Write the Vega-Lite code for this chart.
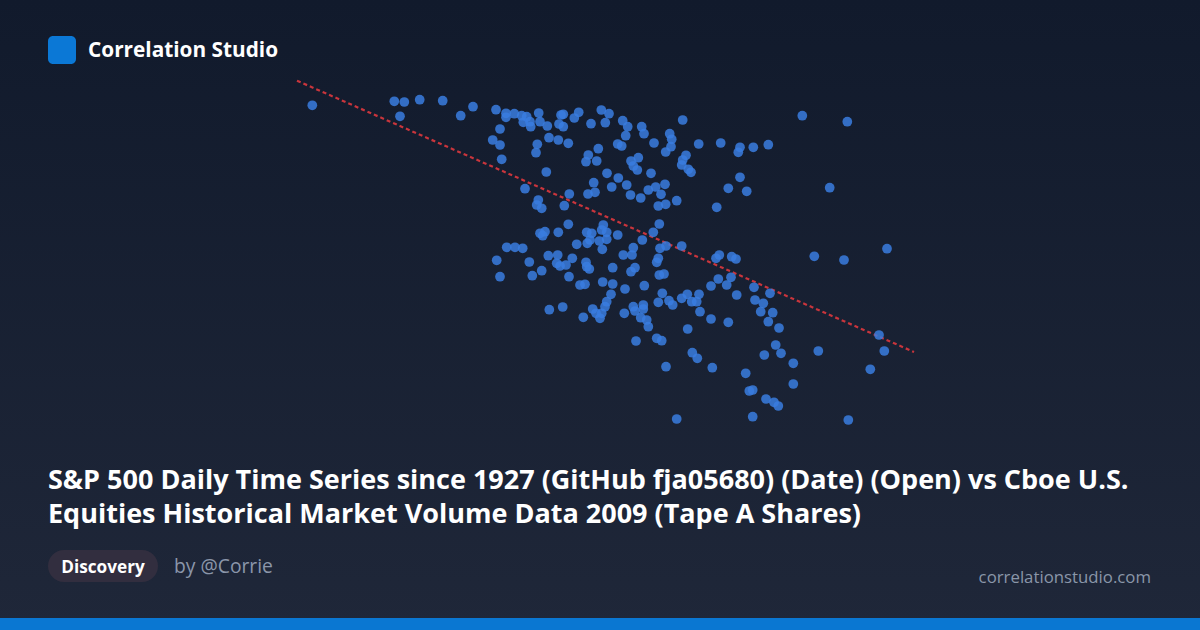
{
  "$schema": "https://vega.github.io/schema/vega-lite/v6.json",
  "width": 1200,
  "height": 630,
  "autosize": {"type": "fit", "contains": "padding"},
  "padding": 0,
  "background": "#161e30",
  "config": {"view": {"stroke": null}},
  "layer": [
    {
      "data": {"values": [{}]},
      "mark": {"type": "rect", "color": {"gradient": "linear", "x1": 0, "y1": 0, "x2": 0, "y2": 1, "stops": [{"offset": 0, "color": "#111a2c"}, {"offset": 1, "color": "#1f2739"}]}},
      "encoding": {"x": {"value": 0}, "x2": {"value": 1200}, "y": {"value": 0}, "y2": {"value": 630}}
    },
    {
      "data": {"values": [{}]},
      "mark": {"type": "rect", "color": "#0a77d2"},
      "encoding": {"x": {"value": 0}, "x2": {"value": 1200}, "y": {"value": 618}, "y2": {"value": 630}}
    },
    {
      "data": {"values": [{}]},
      "mark": {"type": "rect", "color": "#0b78d6", "cornerRadius": 5},
      "encoding": {"x": {"value": 48}, "x2": {"value": 76}, "y": {"value": 36}, "y2": {"value": 64}}
    },
    {
      "data": {"values": [{}]},
      "mark": {"type": "rect", "color": "#322e3f", "cornerRadius": 16},
      "encoding": {"x": {"value": 48}, "x2": {"value": 158}, "y": {"value": 550}, "y2": {"value": 582}}
    },
    {
      "data": {"values": [{}]},
      "mark": {"type": "text", "font": "Open Sans", "fontWeight": "bold", "fontSize": 20.8, "color": "#ffffff", "align": "left", "baseline": "alphabetic"},
      "encoding": {"x": {"value": 88}, "y": {"value": 57}, "text": {"value": "Correlation Studio"}}
    },
    {
      "data": {"values": [{}]},
      "mark": {"type": "text", "font": "Open Sans", "fontWeight": "bold", "fontSize": 27, "lineHeight": 34, "color": "#ffffff", "align": "left", "baseline": "alphabetic"},
      "encoding": {"x": {"value": 48}, "y": {"value": 489}, "text": {"value": ["S&P 500 Daily Time Series since 1927 (GitHub fja05680) (Date) (Open) vs Cboe U.S.", "Equities Historical Market Volume Data 2009 (Tape A Shares)"]}}
    },
    {
      "data": {"values": [{}]},
      "mark": {"type": "text", "font": "Open Sans", "fontWeight": "bold", "fontSize": 17.2, "color": "#ffffff", "align": "center", "baseline": "alphabetic"},
      "encoding": {"x": {"value": 103}, "y": {"value": 573}, "text": {"value": "Discovery"}}
    },
    {
      "data": {"values": [{}]},
      "mark": {"type": "text", "font": "Open Sans", "fontSize": 19.3, "color": "#8b96aa", "align": "left", "baseline": "alphabetic"},
      "encoding": {"x": {"value": 174}, "y": {"value": 573}, "text": {"value": "by @Corrie"}}
    },
    {
      "data": {"values": [{}]},
      "mark": {"type": "text", "font": "Open Sans", "fontSize": 16.8, "color": "#8a96a9", "align": "right", "baseline": "alphabetic"},
      "encoding": {"x": {"value": 1151}, "y": {"value": 583}, "text": {"value": "correlationstudio.com"}}
    },
    {
      "data": {"values": [{"open": 677.75, "volume": 6.193}, {"open": 1140.5, "volume": 3.48}]},
      "mark": {"type": "line", "color": "#c9353c", "strokeWidth": 2.2, "strokeDash": [4, 3]},
      "encoding": {
        "x": {"field": "open", "type": "quantitative", "scale": {"domain": [455, 1355], "nice": false, "zero": false}, "axis": null},
        "y": {"field": "volume", "type": "quantitative", "scale": {"domain": [0.7, 7.0], "nice": false, "zero": false}, "axis": null}
      }
    },
    {
      "data": {"values": [
        {"open": 689.23, "volume": 5.947}, {"open": 750.73, "volume": 5.987}, {"open": 758.23, "volume": 5.98}, {"open": 769.78, "volume": 6.003},
        {"open": 787.03, "volume": 5.993}, {"open": 755.0, "volume": 5.837}, {"open": 800.53, "volume": 5.843}, {"open": 809.75, "volume": 5.933},
        {"open": 827.0, "volume": 5.903}, {"open": 834.5, "volume": 5.867}, {"open": 834.5, "volume": 5.827}, {"open": 840.73, "volume": 5.863},
        {"open": 846.28, "volume": 5.843}, {"open": 850.03, "volume": 5.833}, {"open": 847.48, "volume": 5.777}, {"open": 852.5, "volume": 5.783},
        {"open": 853.03, "volume": 5.733}, {"open": 859.03, "volume": 5.87}, {"open": 860.0, "volume": 5.783}, {"open": 865.48, "volume": 5.74},
        {"open": 875.75, "volume": 5.85}, {"open": 877.48, "volume": 5.857}, {"open": 874.25, "volume": 5.76}, {"open": 877.48, "volume": 5.733},
        {"open": 885.73, "volume": 5.82}, {"open": 889.03, "volume": 5.877}, {"open": 898.25, "volume": 5.763}, {"open": 905.98, "volume": 5.9},
        {"open": 911.75, "volume": 5.863}, {"open": 908.98, "volume": 5.773}, {"open": 922.03, "volume": 5.793}, {"open": 925.78, "volume": 5.733},
        {"open": 830.0, "volume": 5.71}, {"open": 824.53, "volume": 5.6}, {"open": 830.0, "volume": 5.55}, {"open": 857.98, "volume": 5.557},
        {"open": 857.0, "volume": 5.473}, {"open": 866.75, "volume": 5.623}, {"open": 873.73, "volume": 5.6}, {"open": 881.23, "volume": 5.567},
        {"open": 903.73, "volume": 5.513}, {"open": 918.28, "volume": 5.56}, {"open": 921.28, "volume": 5.54}, {"open": 924.28, "volume": 5.643},
        {"open": 831.28, "volume": 5.407}, {"open": 896.23, "volume": 5.45}, {"open": 894.5, "volume": 5.383}, {"open": 902.53, "volume": 5.39},
        {"open": 864.73, "volume": 5.28}, {"open": 910.25, "volume": 5.267}, {"open": 918.73, "volume": 5.22}, {"open": 925.03, "volume": 5.15},
        {"open": 900.28, "volume": 5.173}, {"open": 913.78, "volume": 5.13}, {"open": 848.75, "volume": 5.113}, {"open": 881.98, "volume": 5.06},
        {"open": 896.0, "volume": 5.06}, {"open": 901.25, "volume": 5.077}, {"open": 927.88, "volume": 5.05}, {"open": 858.73, "volume": 5.0},
        {"open": 857.53, "volume": 4.95}, {"open": 861.28, "volume": 4.917}, {"open": 878.23, "volume": 4.943},
        {"open": 967.03, "volume": 5.8}, {"open": 936.28, "volume": 5.733}, {"open": 938.0, "volume": 5.663}, {"open": 957.28, "volume": 5.663},
        {"open": 958.78, "volume": 5.607}, {"open": 945.5, "volume": 5.57}, {"open": 958.25, "volume": 5.533}, {"open": 954.28, "volume": 5.48},
        {"open": 979.03, "volume": 5.56}, {"open": 995.53, "volume": 5.57}, {"open": 1010.0, "volume": 5.527}, {"open": 1008.73, "volume": 5.477},
        {"open": 1019.98, "volume": 5.527}, {"open": 1031.23, "volume": 5.553}, {"open": 969.5, "volume": 5.447}, {"open": 967.03, "volume": 5.4},
        {"open": 966.28, "volume": 5.35}, {"open": 971.23, "volume": 5.307}, {"open": 973.25, "volume": 5.277}, {"open": 933.73, "volume": 5.423},
        {"open": 929.98, "volume": 5.34}, {"open": 932.98, "volume": 5.3}, {"open": 928.25, "volume": 5.39}, {"open": 943.25, "volume": 5.267},
        {"open": 1010.0, "volume": 5.227}, {"open": 1001.23, "volume": 5.117}, {"open": 1015.03, "volume": 5.087}, {"open": 953.75, "volume": 5.157},
        {"open": 946.78, "volume": 5.13}, {"open": 941.23, "volume": 5.1}, {"open": 950.75, "volume": 5.057}, {"open": 935.53, "volume": 5.02},
        {"open": 962.53, "volume": 4.993}, {"open": 948.73, "volume": 4.94}, {"open": 954.28, "volume": 4.957}, {"open": 992.53, "volume": 4.927},
        {"open": 1056.73, "volume": 5.843}, {"open": 1090.48, "volume": 5.783}, {"open": 1077.28, "volume": 5.123},
        {"open": 881.23, "volume": 4.757}, {"open": 907.48, "volume": 4.75}, {"open": 860.0, "volume": 4.667}, {"open": 863.75, "volume": 4.683},
        {"open": 862.03, "volume": 4.643}, {"open": 873.73, "volume": 4.677}, {"open": 895.03, "volume": 4.677}, {"open": 898.78, "volume": 4.667},
        {"open": 906.28, "volume": 4.7}, {"open": 910.03, "volume": 4.677}, {"open": 918.28, "volume": 4.65}, {"open": 887.53, "volume": 4.557},
        {"open": 895.48, "volume": 4.567}, {"open": 897.5, "volume": 4.6}, {"open": 904.48, "volume": 4.59}, {"open": 910.03, "volume": 4.607},
        {"open": 906.73, "volume": 4.507}, {"open": 835.03, "volume": 4.527}, {"open": 841.25, "volume": 4.527}, {"open": 847.03, "volume": 4.517},
        {"open": 827.53, "volume": 4.397}, {"open": 851.98, "volume": 4.38}, {"open": 866.23, "volume": 4.443}, {"open": 873.28, "volume": 4.45},
        {"open": 872.53, "volume": 4.367}, {"open": 875.0, "volume": 4.34}, {"open": 879.5, "volume": 4.35}, {"open": 884.23, "volume": 4.417},
        {"open": 894.5, "volume": 4.377}, {"open": 895.03, "volume": 4.333}, {"open": 896.98, "volume": 4.31}, {"open": 914.53, "volume": 4.323},
        {"open": 922.48, "volume": 4.45}, {"open": 830.0, "volume": 4.233}, {"open": 854.23, "volume": 4.243}, {"open": 861.28, "volume": 4.293},
        {"open": 881.75, "volume": 4.233}, {"open": 890.0, "volume": 4.15}, {"open": 893.75, "volume": 4.157}, {"open": 907.03, "volume": 4.18},
        {"open": 914.53, "volume": 4.16}, {"open": 923.75, "volume": 4.11}, {"open": 913.25, "volume": 4.057}, {"open": 910.03, "volume": 3.983},
        {"open": 908.75, "volume": 3.933}, {"open": 899.53, "volume": 3.91}, {"open": 902.0, "volume": 3.867}, {"open": 906.28, "volume": 3.867},
        {"open": 905.0, "volume": 3.817}, {"open": 892.48, "volume": 3.827}, {"open": 866.98, "volume": 3.903}, {"open": 877.03, "volume": 3.93},
        {"open": 923.23, "volume": 3.867},
        {"open": 949.48, "volume": 4.76}, {"open": 944.98, "volume": 4.677}, {"open": 936.73, "volume": 4.6}, {"open": 929.98, "volume": 4.523},
        {"open": 929.0, "volume": 4.45}, {"open": 950.0, "volume": 4.517}, {"open": 954.5, "volume": 4.54}, {"open": 948.73, "volume": 4.417},
        {"open": 947.53, "volume": 4.377}, {"open": 966.28, "volume": 4.54}, {"open": 992.0, "volume": 4.417}, {"open": 994.48, "volume": 4.45},
        {"open": 1003.78, "volume": 4.433}, {"open": 1007.0, "volume": 4.41}, {"open": 931.25, "volume": 4.323}, {"open": 928.25, "volume": 4.283},
        {"open": 949.48, "volume": 4.25}, {"open": 953.0, "volume": 4.26}, {"open": 938.23, "volume": 4.143}, {"open": 988.25, "volume": 4.14},
        {"open": 993.73, "volume": 4.21}, {"open": 1000.03, "volume": 4.15}, {"open": 1003.25, "volume": 4.227}, {"open": 1007.53, "volume": 4.05},
        {"open": 1020.5, "volume": 4.127}, {"open": 1032.5, "volume": 4.067}, {"open": 951.73, "volume": 4.067}, {"open": 948.73, "volume": 3.977},
        {"open": 956.75, "volume": 3.993}, {"open": 959.53, "volume": 3.95}, {"open": 966.28, "volume": 4.017}, {"open": 970.48, "volume": 4.057},
        {"open": 973.78, "volume": 3.983}, {"open": 977.53, "volume": 3.983}, {"open": 979.25, "volume": 4.057}, {"open": 980.0, "volume": 3.883},
        {"open": 988.25, "volume": 3.81}, {"open": 1001.23, "volume": 3.777}, {"open": 1021.25, "volume": 4.0}, {"open": 1027.48, "volume": 3.967},
        {"open": 1025.53, "volume": 3.883}, {"open": 1034.53, "volume": 3.873}, {"open": 1031.23, "volume": 3.783}, {"open": 929.98, "volume": 3.933},
        {"open": 931.25, "volume": 3.89}, {"open": 937.48, "volume": 3.95}, {"open": 937.48, "volume": 3.91}, {"open": 935.53, "volume": 3.823},
        {"open": 940.03, "volume": 3.8},
        {"open": 1065.73, "volume": 4.437}, {"open": 1088.0, "volume": 4.4}, {"open": 1120.25, "volume": 4.513}, {"open": 1039.25, "volume": 3.72},
        {"open": 941.23, "volume": 3.733}, {"open": 932.0, "volume": 3.59}, {"open": 947.53, "volume": 3.617}, {"open": 951.28, "volume": 3.593},
        {"open": 970.78, "volume": 3.71}, {"open": 954.5, "volume": 3.333}, {"open": 962.53, "volume": 2.81},
        {"open": 1036.78, "volume": 3.55}, {"open": 1040.75, "volume": 3.467}, {"open": 1028.23, "volume": 3.45}, {"open": 1049.98, "volume": 3.367},
        {"open": 1068.73, "volume": 3.49}, {"open": 1114.25, "volume": 3.65}, {"open": 1118.23, "volume": 3.49}, {"open": 1107.73, "volume": 3.307},
        {"open": 974.23, "volume": 3.473}, {"open": 977.98, "volume": 3.417}, {"open": 989.23, "volume": 3.323}, {"open": 1014.28, "volume": 3.267},
        {"open": 1049.98, "volume": 3.16}, {"open": 1016.98, "volume": 3.09}, {"open": 1019.53, "volume": 3.1}, {"open": 1029.5, "volume": 3.01},
        {"open": 1035.5, "volume": 2.977}, {"open": 1038.73, "volume": 2.94}, {"open": 1019.53, "volume": 2.833}, {"open": 1091.23, "volume": 2.8}
      ]},
      "mark": {"type": "circle", "size": 95, "color": "#3a7ddf", "opacity": 0.85, "stroke": null},
      "encoding": {
        "x": {"field": "open", "type": "quantitative", "scale": {"domain": [455, 1355], "nice": false, "zero": false}, "axis": null},
        "y": {"field": "volume", "type": "quantitative", "scale": {"domain": [0.7, 7.0], "nice": false, "zero": false}, "axis": null}
      }
    }
  ]
}
